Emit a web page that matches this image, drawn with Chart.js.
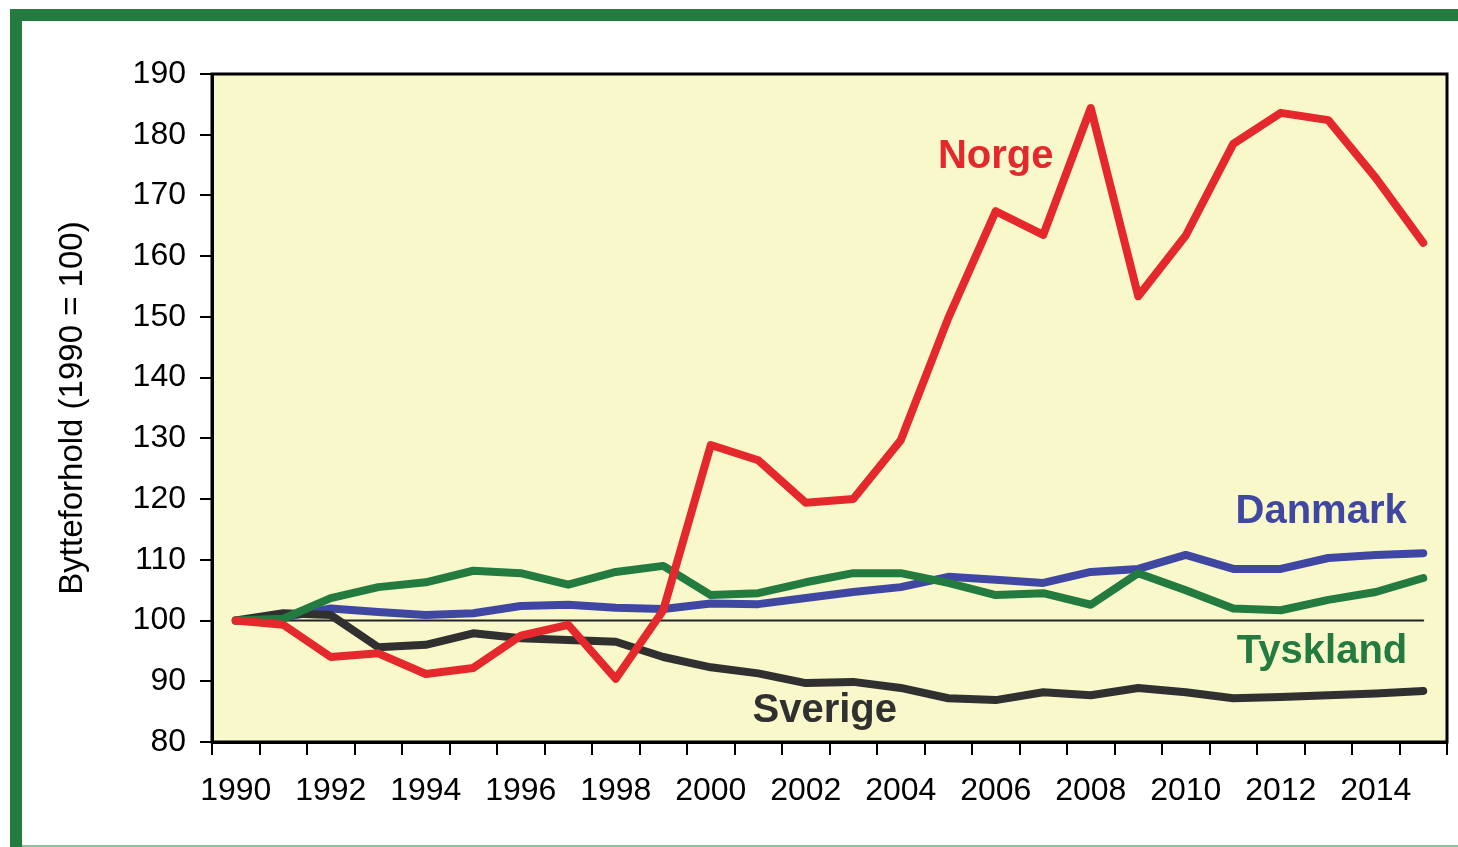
<!DOCTYPE html>
<html>
<head>
<meta charset="utf-8">
<script src="https://cdn.jsdelivr.net/npm/chart.js@4.4.1/dist/chart.umd.min.js"></script>
<style>
  body { margin:0; background:#fff; width:1458px; height:847px; overflow:hidden; position:relative; }
  .frame-top { position:absolute; left:10px; top:9px; width:1448px; height:12px; background:#237b40; }
  .frame-left { position:absolute; left:10px; top:9px; width:12px; height:838px; background:#237b40; }
  .frame-bottom { position:absolute; left:22px; top:845px; width:1436px; height:2px; background:#86c59a; }
  #myChart { position:absolute; left:0; top:0; }
</style>
</head>
<body>
<div class="frame-top"></div>
<div class="frame-left"></div>
<div class="frame-bottom"></div>
<canvas id="myChart" width="1458" height="847"></canvas>
<script>
// years on the x axis
const years = ['1990','1991','1992','1993','1994','1995','1996','1997','1998','1999','2000','2001','2002',
  '2003','2004','2005','2006','2007','2008','2009','2010','2011','2012','2013','2014','2015']

// terms of trade, 1990 = 100
const norge = [100, 99.3, 94, 94.6, 91.2, 92.2, 97.5, 99.3, 90.4, 101.7, 128.9, 126.4, 119.4,
  120, 129.7, 149.8, 167.4, 163.5, 184.4, 153.4, 163.4, 178.5, 183.6, 182.4, 172.9, 162.2]
const danmark = [100, 100.5, 102, 101.4, 100.9, 101.2, 102.4, 102.6, 102.1, 101.9, 102.8, 102.7, 103.7,
  104.7, 105.5, 107.2, 106.7, 106.2, 108, 108.5, 110.8, 108.5, 108.5, 110.3, 110.8, 111.1]
const tyskland = [100, 100.3, 103.7, 105.5, 106.3, 108.2, 107.8, 105.9, 108, 109, 104.2, 104.5, 106.3,
  107.8, 107.8, 106.2, 104.2, 104.5, 102.6, 107.8, 105, 102, 101.7, 103.4, 104.7, 107]
const sverige = [100, 101.2, 100.9, 95.6, 96, 97.9, 97.1, 96.8, 96.5, 94, 92.3, 91.3, 89.7,
  89.9, 88.9, 87.2, 86.9, 88.2, 87.7, 88.9, 88.2, 87.2, 87.4, 87.7, 88, 88.4]
const baseline = [100, 100, 100, 100, 100, 100, 100, 100, 100, 100, 100, 100, 100,
  100, 100, 100, 100, 100, 100, 100, 100, 100, 100, 100, 100, 100]

// series names written inside the plot: [text, year position, value, colour]
const seriesLabels = [
  ['Norge', 16.0, 176.3, '#e4282c'],
  ['Danmark', 22.85, 117.8, '#3f47a3'],
  ['Tyskland', 22.87, 94.8, '#237b40'],
  ['Sverige', 12.4, 85.1, '#303030']
]

const yMin = 80, yMax = 190, yStep = 10
const font = "'Liberation Sans', Arial, sans-serif"

const line = (data, color, order, width) => ({
  data: data,
  borderColor: color,
  borderWidth: width,
  pointRadius: 0,
  tension: 0,
  borderCapStyle: 'round',
  borderJoinStyle: 'round',
  order: order
})

const plotDecor = {
  id: 'plotDecor',
  beforeDraw(chart) {
    const a = chart.chartArea, ctx = chart.ctx
    ctx.save()
    ctx.fillStyle = '#f8f8cb'
    ctx.fillRect(a.left, a.top, a.right - a.left, a.bottom - a.top)
    ctx.restore()
  },
  afterDraw(chart) {
    const a = chart.chartArea, ctx = chart.ctx
    const x = chart.scales.x, y = chart.scales.y
    ctx.save()
    ctx.strokeStyle = '#000'
    ctx.lineWidth = 3
    ctx.strokeRect(a.left, a.top, a.right - a.left, a.bottom - a.top)
    ctx.font = 'bold 40px ' + font
    ctx.textAlign = 'center'
    ctx.textBaseline = 'middle'
    seriesLabels.forEach(l => {
      ctx.fillStyle = l[3]
      ctx.fillText(l[0], x.getPixelForValue(l[1]), y.getPixelForValue(l[2]))
    })
    ctx.restore()
  }
}

const ctx = document.getElementById('myChart').getContext('2d')
const myChart = new Chart(ctx, {
  type: 'line',
  data: {
    labels: years,
    datasets: [
      line(baseline, '#222', 5, 2),
      line(danmark, '#3f47a3', 4, 8),
      line(sverige, '#303030', 3, 8),
      line(tyskland, '#237b40', 2, 8),
      line(norge, '#e4282c', 1, 8)
    ]
  },
  plugins: [plotDecor],
  options: {
    responsive: false,
    animation: false,
    devicePixelRatio: 1,
    layout: { padding: { left: 53, right: 11, top: 74, bottom: 0 } },
    plugins: { legend: { display: false }, tooltip: { enabled: false } },
    scales: {
      x: {
        offset: true,
        afterFit(s) { s.height = 105 },
        grid: { offset: true, drawOnChartArea: false, tickLength: 13, color: '#000', lineWidth: 2 },
        border: { display: true, color: '#000', width: 3 },
        ticks: {
          autoSkip: false,
          maxRotation: 0,
          padding: 17,
          color: '#000',
          font: { family: font, size: 32 },
          callback(v, i) { return i % 2 === 0 ? this.getLabelForValue(v) : '' }
        }
      },
      y: {
        min: yMin,
        max: yMax,
        afterFit(s) { s.width = 159 },
        grid: { drawOnChartArea: false, tickLength: 12, color: '#000', lineWidth: 2 },
        border: { display: true, color: '#000', width: 3 },
        ticks: {
          stepSize: yStep,
          padding: 14,
          color: '#000',
          font: { family: font, size: 32 }
        },
        title: {
          display: true,
          text: 'Bytteforhold (1990 = 100)',
          color: '#000',
          padding: 0,
          font: { family: font, size: 33 }
        }
      }
    }
  }
})
</script>
</body>
</html>
